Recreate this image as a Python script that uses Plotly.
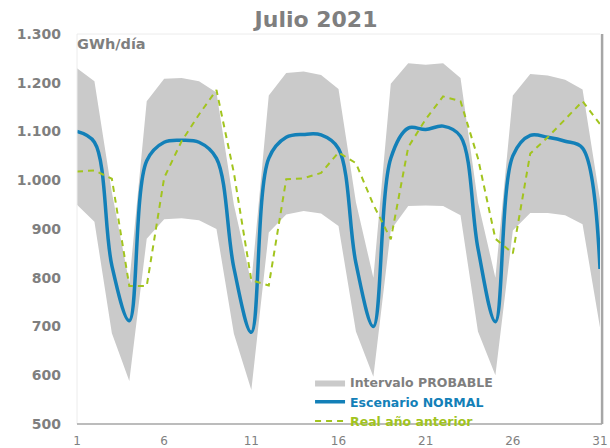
import plotly.graph_objects as go

days = list(range(1, 32))

upper = [1230, 1203, 975, 790, 1162, 1208, 1210, 1203, 1180, 950, 790,
         1174, 1220, 1223, 1216, 1187, 955, 800, 1198, 1240, 1237, 1240,
         1210, 955, 800, 1174, 1218, 1215, 1206, 1186, 960]
lower = [950, 915, 686, 588, 880, 920, 922, 918, 900, 685, 570,
         893, 930, 937, 932, 906, 690, 597, 898, 947, 948, 947,
         928, 690, 600, 897, 933, 933, 928, 910, 698]
normal = [1100, 1078, 825, 712, 1040, 1078, 1082, 1078, 1045, 820, 688,
          1045, 1088, 1094, 1093, 1065, 830, 700, 1045, 1107, 1104, 1111,
          1090, 860, 710, 1050, 1092, 1088, 1080, 1066, 818]
real_prev = [1018, 1020, 1003, 783, 783, 1005, 1080, 1135, 1185, 1015, 795,
             784, 1002, 1004, 1015, 1057, 1035, 950, 879, 1068, 1125, 1172,
             1162, 1045, 880, 850, 1055, 1088, 1125, 1162, 1115]

x_ticks = [1, 6, 11, 16, 21, 26, 31]
y_ticks = [500, 600, 700, 800, 900, 1000, 1100, 1200, 1300]
y_text = ["500", "600", "700", "800", "900", "1.000", "1.100", "1.200", "1.300"]

GRAY_TXT = "#7f7f7f"
BLUE = "#1380b8"
GREEN = "#a2c41e"
BAND = "#cacaca"
FONT = "DejaVu Sans"

fig = go.Figure()
fig.add_trace(go.Scatter(x=days, y=lower, mode="lines", line=dict(width=0, color=BAND),
                         showlegend=False, hoverinfo="skip"))
fig.add_trace(go.Scatter(x=days, y=upper, mode="lines", line=dict(width=0, color=BAND),
                         fill="tonexty", fillcolor=BAND,
                         name=f"<span style='color:{GRAY_TXT}'>Intervalo PROBABLE</span>"))
fig.add_trace(go.Scatter(x=days, y=normal, mode="lines",
                         line=dict(color=BLUE, width=3.5, shape="spline", smoothing=1.0),
                         name=f"<span style='color:{BLUE}'>Escenario NORMAL</span>"))
fig.add_trace(go.Scatter(x=days, y=real_prev, mode="lines",
                         line=dict(color=GREEN, width=2, dash="6px,5px"),
                         name=f"<span style='color:{GREEN}'>Real año anterior</span>"))

fig.update_layout(
    width=610, height=448,
    margin=dict(l=77, r=10, t=34, b=24, autoexpand=False),
    paper_bgcolor="white", plot_bgcolor="white",
    title=dict(text="<b>Julio 2021</b>", x=316 / 610, y=1 - 19 / 448,
               xref="container", yref="container", xanchor="center", yanchor="middle",
               font=dict(family=FONT, size=22, color=GRAY_TXT)),
    xaxis=dict(range=[1, 31], tickvals=x_ticks, ticktext=[str(v) for v in x_ticks],
               showgrid=False, zeroline=False, showline=False, ticks="", automargin=False,
               tickfont=dict(family=FONT, size=12, color="#808080"), ticklabelstandoff=8),
    yaxis=dict(range=[500, 1300], tickvals=y_ticks, ticktext=y_text, automargin=False,
               showgrid=False, zeroline=False, showline=False, ticks="",
               tickfont=dict(family=FONT, size=14, color=GRAY_TXT, weight="bold"),
               ticklabelstandoff=15),
    legend=dict(x=0.4456, y=0.144, xanchor="left", yanchor="top", traceorder="normal",
                bgcolor="rgba(0,0,0,0)", font=dict(family=FONT, size=12.5, weight="bold"),
                tracegroupgap=0),
    showlegend=True,
    shapes=[
        dict(type="line", xref="paper", yref="paper", x0=0, x1=1, y0=1, y1=1,
             line=dict(color="#ececec", width=1)),
        dict(type="line", xref="paper", yref="paper", x0=0, x1=0, y0=0, y1=1,
             line=dict(color="#ececec", width=1)),
        dict(type="line", xref="paper", yref="paper", x0=0, x1=1.004, y0=0, y1=0,
             line=dict(color="#a6a6a6", width=1.5)),
        dict(type="line", xref="paper", yref="paper", x0=1.004, x1=1.004, y0=0, y1=1,
             line=dict(color="#a6a6a6", width=2.5)),
    ],
    annotations=[
        dict(text="<b>GWh/día</b>", xref="paper", yref="paper", x=0, y=1, xshift=-2, yshift=-10,
             xanchor="left", yanchor="middle", showarrow=False,
             font=dict(family=FONT, size=14.5, color=GRAY_TXT)),
    ],
)

fig.write_html("out.html", config={"displayModeBar": False},
               post_script="document.body.style.margin='0';")
